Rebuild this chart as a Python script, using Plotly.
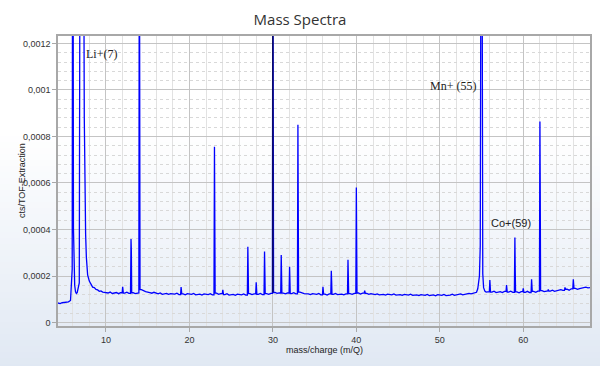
import plotly.graph_objects as go

# Intensities are stored in micro-units (1 = 1e-6 cts/TOF-Extraction)
SCALE = 1e-6

# Noisy baseline: one row per integer mass, values read at m+0.25, m+0.5, m+0.75
baseline_unit = [4, 5, 10, 11, 12, 13, 14, 15, 16, 17, 18, 19, 20, 21, 22, 23, 24, 25,
                 26, 27, 28, 29, 30, 31, 32, 33, 34, 35, 36, 37, 38, 39, 40, 41, 42, 43,
                 44, 45, 46, 47, 48, 49, 50, 51, 52, 53, 56, 57, 58, 59, 60, 61, 62, 63,
                 64, 65, 66, 67]
baseline_q1 = [84, 86, 127, 129, 126, 128, 141, 129, 123, 125, 122, 123, 121, 122, 120, 126,
               120, 121, 119, 124, 121, 124, 129, 126, 124, 131, 123, 121, 122, 121, 122, 124,
               127, 125, 120, 121, 119, 120, 118, 119, 117, 119, 117, 118, 120, 122, 131, 133,
               131, 132, 130, 134, 137, 135, 137, 143, 147, 148]
baseline_q2 = [81, 89, 131, 124, 130, 124, 136, 126, 127, 121, 126, 119, 125, 118, 124, 121,
               124, 117, 123, 120, 125, 121, 125, 123, 128, 127, 120, 125, 118, 125, 119, 121,
               122, 121, 123, 118, 123, 117, 122, 116, 121, 115, 121, 122, 123, 125, 135, 129,
               135, 128, 134, 130, 133, 139, 141, 139, 143, 152]
baseline_q3 = [85, 95, 125, 128, 125, 127, 133, 130, 121, 124, 120, 124, 119, 123, 119, 124,
               118, 122, 118, 123, 120, 125, 127, 127, 123, 124, 124, 119, 123, 120, 123, 125,
               126, 124, 119, 122, 118, 121, 117, 120, 116, 120, 116, 117, 119, 123, 129, 134,
               130, 133, 129, 135, 136, 134, 138, 145, 146, 149]
edge_mz = [54.25, 55.75, 68.0]
edge_int = [127, 133, 150]

# Li region (m/Q 6 and 7 with the tail)
li_mz = [5.85, 5.95, 6.0, 6.05, 6.1, 6.15, 6.25, 6.35, 6.45, 6.55, 6.7, 6.8,
         6.9, 7.3, 7.4, 7.48, 7.56, 7.65, 7.8, 8.0, 8.2, 8.4, 8.6, 8.8, 9.0,
         9.2, 9.4, 9.6, 9.8]
li_int = [215, 230, 2000, 2000, 406, 200, 160, 132, 125, 128, 150, 170,
          2000, 2000, 880, 560, 380, 280, 205, 178, 165, 152, 150, 142, 140,
          134, 136, 131, 130]

# Mn region (m/Q 55)
mn_mz = [54.4, 54.55, 54.75, 54.85, 54.95, 55.05, 55.1, 55.15, 55.25, 55.4, 55.55]
mn_int = [130, 145, 200, 330, 2000, 2000, 240, 210, 150, 135, 131]

# Isolated peaks: position, apex, shoulder (0 = none)
peak_mz = [12, 13, 14, 19, 23, 24, 27, 28, 29, 30, 31, 32, 33, 36, 37, 39, 40, 41,
           56, 58, 59, 60, 61, 62, 63, 65, 66]
peak_top = [154, 359, 2000, 152, 756, 140, 326, 173, 305, 2000, 290, 240, 850, 154,
            223, 270, 581, 137, 183, 161, 366, 147, 186, 864, 142, 151, 186]
peak_second = [0, 307, 150, 0, 312, 0, 187, 0, 197, 515, 210, 0, 514, 0,
               178, 229, 363, 0, 0, 0, 226, 0, 0, 527, 0, 0, 0]

cursor_mz = 30

label_text = ["Li+(7)", "Mn+ (55)", "Co+(59)"]
label_mz = [9.5, 51.6, 58.5]
label_int = [1155, 1017, 427]

y_tickvals = [0, 200, 400, 600, 800, 1000, 1200]
y_ticktext = ["0", "0,0002", "0,0004", "0,0006", "0,0008", "0,001", "0,0012"]
x_tickvals = [10, 20, 30, 40, 50, 60]
x_ticktext = ["10", "20", "30", "40", "50", "60"]

# ---- assemble the spectrum ----
base_pts = list(zip(edge_mz, edge_int))
for u, a, b, c in zip(baseline_unit, baseline_q1, baseline_q2, baseline_q3):
    base_pts += [(u + 0.25, a), (u + 0.5, b), (u + 0.75, c)]
bl = dict(base_pts)
pts = base_pts + list(zip(li_mz, li_int)) + list(zip(mn_mz, mn_int))
for m, t, s in zip(peak_mz, peak_top, peak_second):
    pts.append((m - 0.06, bl[m - 0.25]))
    pts.append((m, t))
    if s:
        pts.append((m + 0.04, s))
    pts.append((m + 0.08, bl[m + 0.25]))
pts.sort()
xs = [p[0] for p in pts]
ys = [p[1] * SCALE for p in pts]

fig = go.Figure()
fig.add_trace(go.Scatter(x=xs, y=ys, mode="lines",
                         line=dict(color="#0000ff", width=1.3),
                         hoverinfo="skip", showlegend=False))

# geometry of the plot area in pixels
W, H = 600, 366
left_px, right_px, top_px, bot_px = 58, 590, 36, 326
pw, ph = right_px - left_px, bot_px - top_px

# background gradient (white at top -> pale blue at bottom)
shapes = []
start, end = 130, 366
c0 = (255, 255, 255)
c1 = (224, 232, 243)
step = 6
for p in range(start, end, step):
    f = (p - start) / (end - start)
    col = tuple(round(c0[i] + (c1[i] - c0[i]) * f) for i in range(3))
    y1 = (bot_px - p) / ph
    y0 = (bot_px - (p + step)) / ph
    shapes.append(dict(type="rect", xref="paper", yref="paper", x0=-1, x1=2, y0=y0, y1=y1,
                       fillcolor="rgb(%d,%d,%d)" % col, line=dict(width=0), layer="below"))
shapes.append(dict(type="line", xref="x", yref="y", x0=cursor_mz, x1=cursor_mz,
                   y0=bl[cursor_mz + 0.25] * SCALE, y1=0.00124,
                   line=dict(color="#111111", width=1), layer="above"))

fig.update_layout(
    width=W, height=H,
    margin=dict(l=left_px, r=W - right_px, t=top_px, b=H - bot_px, autoexpand=False),
    paper_bgcolor="white", plot_bgcolor="rgba(0,0,0,0)",
    shapes=shapes,
    title=dict(text="Mass Spectra", x=0.5, xanchor="center", y=(H - 20) / H, yanchor="middle",
               yref="container", font=dict(family="Open Sans", size=15, color="#333333")),
    font=dict(family="Liberation Sans, Arial", size=9, color="#333333"),
    showlegend=False,
)
fig.update_xaxes(range=[4.25, 68.0], tickvals=x_tickvals, ticktext=x_ticktext,
                 automargin=False,
                 showgrid=True, gridcolor="#c4c4c4", gridwidth=1,
                 minor=dict(dtick=2, tick0=0, showgrid=True, gridcolor="#e2e2e2", gridwidth=1),
                 showline=True, linecolor="#a8a8a8", linewidth=1.5, mirror=True,
                 ticks="outside", ticklen=4, tickcolor="#a8a8a8",
                 zeroline=False, tickfont=dict(size=9, color="#333333"))
fig.update_yaxes(range=[-0.000015, 0.001232], tickvals=[v * SCALE for v in y_tickvals],
                 ticktext=y_ticktext, automargin=False,
                 showgrid=True, gridcolor="#c4c4c4", gridwidth=1,
                 minor=dict(dtick=0.00004, tick0=0, showgrid=True, gridcolor="#d8d8d8",
                            gridwidth=1, griddash="dot"),
                 showline=True, linecolor="#a8a8a8", linewidth=1.5, mirror=True,
                 ticks="outside", ticklen=4, tickcolor="#a8a8a8",
                 zeroline=False, tickfont=dict(size=9, color="#333333"))

# axis titles
fig.add_annotation(text="mass/charge (m/Q)", xref="paper", yref="paper",
                   x=0.5, y=(bot_px - 350) / ph, xanchor="center", yanchor="middle",
                   showarrow=False, font=dict(size=9, color="#222222"))
fig.add_annotation(text="cts/TOF-Extraction", xref="paper", yref="paper",
                   x=(22 - left_px) / pw, y=0.5, xanchor="center", yanchor="middle",
                   textangle=-90, showarrow=False, font=dict(size=9, color="#222222"))

fonts = ["Liberation Serif", "Liberation Serif", "Liberation Sans"]
for t, m, v, f in zip(label_text, label_mz, label_int, fonts):
    fig.add_annotation(x=m, y=v * SCALE, text=t, showarrow=False, xanchor="center",
                       yanchor="middle", font=dict(family=f, size=12 if f.endswith("Serif") else 11,
                                                   color="#222222"))

fig.write_html("out.html", config={"displayModeBar": False},
               post_script="document.body.style.margin='0';document.body.style.overflow='hidden';")
